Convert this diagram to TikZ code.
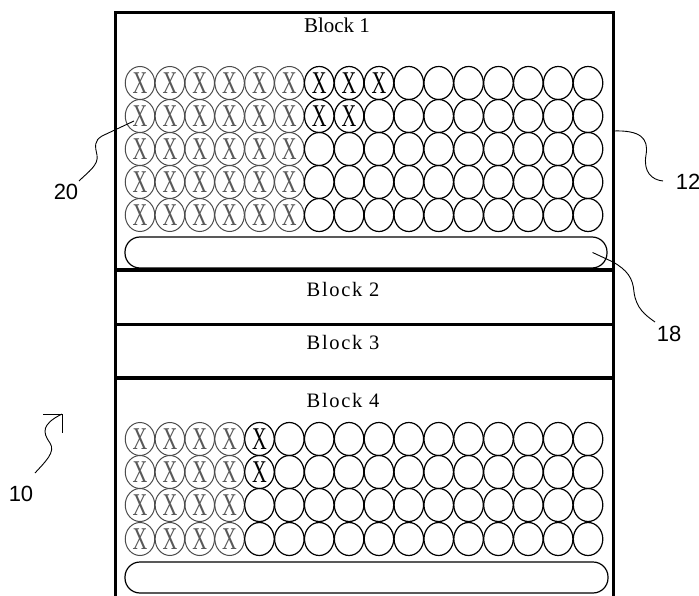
\documentclass[tikz,border=0pt]{standalone}
\usepackage{fontspec}
\usepackage{graphicx}
\setmainfont{Liberation Serif}
\newfontfamily\refsans{Liberation Sans}
\usetikzlibrary{shapes.geometric}
\newcommand\cellX{\fontsize{24}{24}\selectfont\scalebox{0.85}[1.32]{X}}
\begin{document}
\begin{tikzpicture}[x=1pt,y=-1pt,
  cell/.style={ellipse, draw=black, line width=1.2pt, minimum width=29.5pt, minimum height=33pt, inner sep=0pt},
  greycell/.style={cell, draw=black!70, line width=1pt, text=black!65},
  barbox/.style={draw=black, line width=1.2pt, rounded corners=15pt, minimum height=31pt, inner sep=0pt},
  blocklabel/.style={font=\fontsize{20.5}{20.5}\selectfont\addfontfeature{LetterSpace=8}, inner sep=0pt},
  reflabel/.style={font=\refsans\fontsize{22}{22}\selectfont, inner sep=0pt},
  leader/.style={draw=black, line width=0.9pt},
  border/.style={draw=black, line width=3pt},
  divider/.style={draw=black, line width=4pt}]
\useasboundingbox (0,0) rectangle (699,596);
% cells of block 1
\foreach \r/\y/\k in {1/83/9,2/116/8,3/149/6,4/182/6,5/215/6} {
  \foreach \c in {1,...,16} {
    \pgfmathsetmacro\xx{140+29.87*(\c-1)}
    \ifnum\c<7
      \node[greycell] (a-\r-\c) at (\xx,\y) {\cellX};
    \else\ifnum\c>\k
      \node[cell] (a-\r-\c) at (\xx,\y) {};
    \else
      \node[cell] (a-\r-\c) at (\xx,\y) {\cellX};
    \fi\fi
  }
}
% cells of block 4
\foreach \r/\y/\k in {1/439/5,2/472/5,3/505/4,4/539/4} {
  \foreach \c in {1,...,16} {
    \pgfmathsetmacro\xx{140+29.87*(\c-1)}
    \ifnum\c<5
      \node[greycell] (d-\r-\c) at (\xx,\y) {\cellX};
    \else\ifnum\c>\k
      \node[cell] (d-\r-\c) at (\xx,\y) {};
    \else
      \node[cell] (d-\r-\c) at (\xx,\y) {\cellX};
    \fi\fi
  }
}
% bars
\node[barbox, minimum width=482pt] (bar1) at (366,252.5) {};
\node[barbox, minimum width=483pt] (bar4) at (366.5,577.5) {};
% outer frame and dividers
\path[border] (115,596) -- (115,13) -- (613,13) -- (613,596);
\path[divider] (115,270) -- (613,270);
\path[border] (115,324) -- (613,324);
\path[divider] (115,378) -- (613,378);
% block labels
\node[font=\fontsize{21}{21}\selectfont, inner sep=0pt] (lab1) at (337,25) {Block 1};
\node[blocklabel] (lab2) at (343,289) {Block 2};
\node[blocklabel] (lab3) at (343,342) {Block 3};
\node[blocklabel] (lab4) at (343,400) {Block 4};
% reference numerals
\node[reflabel] (r20) at (66,192) {20};
\node[reflabel] (r12) at (688,182) {12};
\node[reflabel] (r18) at (669,334) {18};
\node[reflabel] (r10) at (21,494) {10};
% leaders
\coordinate (e20) at ([shift={(-6,5)}]a-2-1.center);
\coordinate (s20) at (79,181);
\path[leader] (s20) .. controls (88,172) and (99,165) .. (97,155)
  .. controls (95,146) and (94,141) .. (102,136) -- (e20);
\coordinate (s12) at (613,131);
\coordinate (e12) at (663,181);
\path[leader] (s12) .. controls (640,130) and (649,138) .. (646,155)
  .. controls (643,172) and (652,180) .. (e12);
\coordinate (s18) at ([shift={(-15,0)}]bar1.east);
\coordinate (e18) at (655,322);
\path[leader] (s18) -- (613,262) .. controls (627,270) and (633,278) .. (634,292)
  .. controls (636,308) and (645,315) .. (e18);
\coordinate (s10) at (35,473);
\coordinate (t10) at (62,414);
\path[leader] (s10) .. controls (45,462) and (56,452) .. (50,443)
  .. controls (42,432) and (42,424) .. (t10);
\path[leader] (43,414) -- (t10) -- (62,433);
\end{tikzpicture}
\end{document}
